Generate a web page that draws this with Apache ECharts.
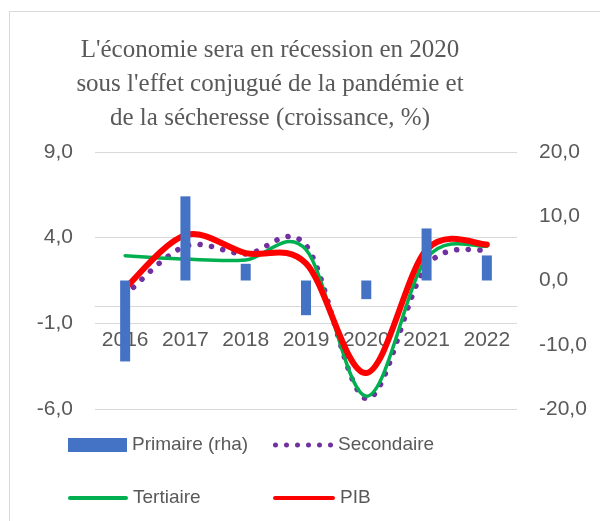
<!DOCTYPE html>
<html><head><meta charset="utf-8">
<script src="https://cdn.jsdelivr.net/npm/echarts@6/dist/echarts.min.js"></script>
<style>html,body{margin:0;padding:0;background:#fff}#c{width:600px;height:521px}</style>
</head><body><div id="c"></div>
<script>
const years = ['2016','2017','2018','2019','2020','2021','2022'];
const primaire = [-12.6, 13.1, 2.6, -5.4, -2.9, 8.1, 3.9];
const secondaire = [0.65, 3.5, 3.05, 3.55, -5.4, 2.35, 3.3];
const tertiaire = [2.95, 2.75, 2.7, 3.3, -5.25, 2.8, 3.5];
const pib = [1.05, 4.15, 3.1, 2.5, -3.9, 3.3, 3.6];
const leftTicks = [-6, -1, 4, 9];
const rightTicks = [-20, -10, 0, 10, 20];
const titleLines = ["L'économie sera en récession en 2020", "sous l'effet conjugué de la pandémie et", "de la sécheresse (croissance, %)"];

const TXT = '#595959';
const SANS = '"Liberation Sans", Arial, sans-serif';
const fmt = v => v.toFixed(1).replace('.', ',');

const GRID_TOP = 152, GRID_BOTTOM_Y = 409;
// left-axis zero position, used to place the category axis where Excel draws it
const zeroOffset = -(GRID_BOTTOM_Y - (GRID_TOP + (GRID_BOTTOM_Y - GRID_TOP) * (leftTicks[leftTicks.length - 1] - 0) / (leftTicks[leftTicks.length - 1] - leftTicks[0])));

function smoothSeries(name, values, color, width, dash) {
  return {
    name: name, type: 'custom', coordinateSystem: 'cartesian2d', yAxisIndex: 0,
    data: values.map((v, i) => [i, v]),
    encode: { x: 0, y: 1 },
    itemStyle: { color: color },
    silent: true,
    renderItem: function (params, api) {
      if (params.dataIndex !== 0) return null;
      const pts = values.map((v, i) => api.coord([i, v]));
      const n = pts.length;
      let d = 'M' + pts[0][0] + ',' + pts[0][1];
      for (let i = 0; i < n - 1; i++) {
        const p0 = pts[Math.max(i - 1, 0)], p1 = pts[i], p2 = pts[i + 1], p3 = pts[Math.min(i + 2, n - 1)];
        const c1x = p1[0] + (p2[0] - p0[0]) / 6, c1y = p1[1] + (p2[1] - p0[1]) / 6;
        const c2x = p2[0] - (p3[0] - p1[0]) / 6, c2y = p2[1] - (p3[1] - p1[1]) / 6;
        d += ' C' + c1x + ',' + c1y + ' ' + c2x + ',' + c2y + ' ' + p2[0] + ',' + p2[1];
      }
      return {
        type: 'path', shape: { pathData: d },
        style: { fill: 'none', stroke: color, lineWidth: width, lineCap: 'round', lineJoin: 'round', lineDash: dash || null }
      };
    }
  };
}

let dotPath = 'path://';
for (let k = 0; k < 6; k++) {
  const cx = 2.5 + k * 11;
  dotPath += 'M' + (cx - 2.5) + ',2.5 a2.5,2.5 0 1,0 5,0 a2.5,2.5 0 1,0 -5,0 ';
}
const linePath = 'path://M2,0 L58,0 A2,2 0 0,1 58,4 L2,4 A2,2 0 0,1 2,0 Z';

const legendText = { color: TXT, fontSize: 19, fontFamily: SANS, lineHeight: 20 };
function lg(name, icon, left, top, w, h) {
  return { data: [{ name: name, icon: icon }], left: left, top: top, itemWidth: w, itemHeight: h,
    padding: 0, itemGap: 0, textStyle: legendText, selectedMode: false };
}

const chart = echarts.init(document.getElementById('c'), null, { renderer: 'canvas' });
chart.setOption({
  animation: false,
  backgroundColor: '#fff',
  graphic: [
    { type: 'rect', shape: { x: 9.5, y: 11.5, width: 800, height: 800 }, style: { fill: 'none', stroke: '#D9D9D9', lineWidth: 1 }, silent: true },
    { type: 'text', x: 270, y: 33, style: { text: titleLines.join('\n'), textAlign: 'center', textVerticalAlign: 'top',
      font: '25px "Liberation Serif", "Times New Roman", serif', lineHeight: 34, fill: TXT }, silent: true }
  ],
  legend: [
    lg('Primaire (rha)', 'rect', 68, 435, 59, 14),
    lg('Secondaire', dotPath, 273, 435, 60, 5),
    lg('Tertiaire', linePath, 68, 488, 60, 4),
    lg('PIB', linePath, 273, 488, 62, 5)
  ],
  grid: { left: 95, right: 83, top: GRID_TOP, bottom: 521 - GRID_BOTTOM_Y, containLabel: false },
  xAxis: {
    type: 'category', data: years, position: 'bottom', offset: zeroOffset,
    axisLine: { onZero: false, lineStyle: { color: '#D9D9D9', width: 1 } },
    axisTick: { show: false },
    axisLabel: { color: TXT, fontSize: 21, fontFamily: SANS, margin: 24, interval: 0, hideOverlap: false },
    splitLine: { show: false }
  },
  yAxis: [
    { type: 'value', position: 'left', min: leftTicks[0], max: leftTicks[leftTicks.length - 1], interval: leftTicks[1] - leftTicks[0],
      axisLine: { show: false }, axisTick: { show: false },
      axisLabel: { color: TXT, fontSize: 21, fontFamily: SANS, margin: 22, formatter: fmt },
      splitLine: { lineStyle: { color: '#D9D9D9', width: 1 } } },
    { type: 'value', position: 'right', min: rightTicks[0], max: rightTicks[rightTicks.length - 1], interval: rightTicks[1] - rightTicks[0],
      axisLine: { show: false }, axisTick: { show: false },
      axisLabel: { color: TXT, fontSize: 21, fontFamily: SANS, margin: 22, formatter: fmt },
      splitLine: { show: false } }
  ],
  series: [
    { name: 'Primaire (rha)', type: 'bar', yAxisIndex: 1, data: primaire, barWidth: 10, itemStyle: { color: '#4472C4' }, silent: true },
    smoothSeries('Secondaire', secondaire, '#7030A0', 5.5, [0.1, 11.5]),
    smoothSeries('Tertiaire', tertiaire, '#00B050', 3.5),
    smoothSeries('PIB', pib, '#FF0000', 6)
  ]
});
</script>
</body></html>
